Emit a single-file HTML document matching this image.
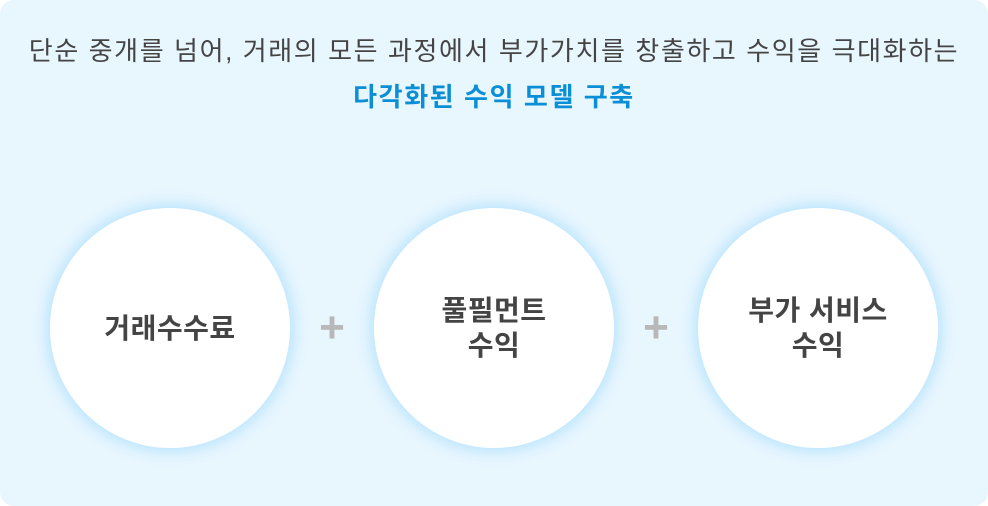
<!DOCTYPE html>
<html><head><meta charset="utf-8"><style>
body{margin:0;width:988px;height:506px;background:#fff;overflow:hidden;font-family:"Liberation Sans","Noto Sans CJK KR",sans-serif}
.bg{position:absolute;left:0;top:0;width:988px;height:506px;background:#e8f6fe;border-radius:14px}
.t1{position:absolute;left:0;top:34px;width:988px;text-align:center;font-size:26px;color:#444;letter-spacing:1.6px;line-height:34px}
.t2{position:absolute;left:0;top:80px;width:988px;text-align:center;font-size:26px;color:#0a8fd6;font-weight:bold;letter-spacing:1.6px;line-height:34px}
.c{position:absolute;top:208px;width:240px;height:240px;border-radius:50%;background:#fff;box-shadow:0 0 14px 4px #b9e4fd;display:flex;align-items:center;justify-content:center;text-align:center;font-size:28px;font-weight:bold;color:#444;line-height:35px;letter-spacing:0.5px}
.p{position:absolute;top:306px;width:40px;text-align:center;font-size:44px;font-weight:bold;color:#b8b8b8;line-height:44px}
</style></head><body>
<div class="bg"></div>
<div class="t1">단순 중개를 넘어, 거래의 모든 과정에서 부가가치를 창출하고 수익을 극대화하는</div>
<div class="t2">다각화된 수익 모델 구축</div>
<div class="c" style="left:50px">거래수수료</div>
<div class="p" style="left:312px">+</div>
<div class="c" style="left:374px">풀필먼트<br>수익</div>
<div class="p" style="left:636px">+</div>
<div class="c" style="left:698px">부가 서비스<br>수익</div>
</body></html>
